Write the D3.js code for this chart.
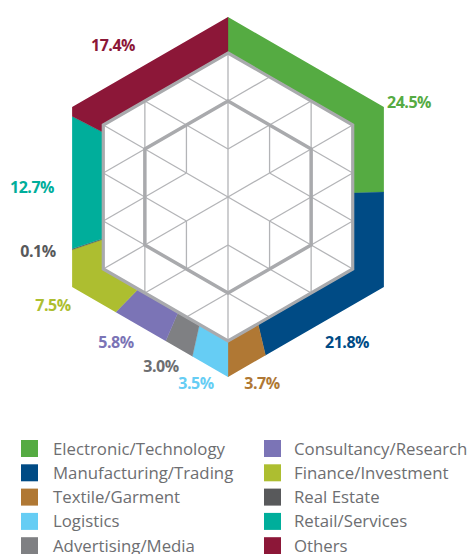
<!DOCTYPE html>
<html>
<head>
    <title>Hexagon Share Chart</title>
    <script src="https://d3js.org/d3.v7.min.js"></script>
    <style>
        body, html {
            margin: 0;
            padding: 0;
            width: 100%;
            height: 100%;
            overflow: hidden;
            background: #ffffff;
        }

        svg {
            display: block;
        }

        .pct {
            font-family: "Open Sans", sans-serif;
            font-size: 16px;
            font-weight: bold;
            text-anchor: middle;
            letter-spacing: -0.5px;
        }

        .legend-text {
            font-family: "Open Sans", sans-serif;
            font-size: 16.8px;
            fill: #6d6e71;
        }
    </style>
</head>
<body>
    <svg id="chart" width="468" height="554"></svg>

    <script>
        // data
        const categories = [
            "Electronic/Technology", "Manufacturing/Trading", "Textile/Garment",
            "Logistics", "Advertising/Media", "Consultancy/Research",
            "Finance/Investment", "Real Estate", "Retail/Services", "Others"
        ];
        const shares = [24.5, 21.8, 3.7, 3.5, 3.0, 5.8, 7.5, 0.1, 12.7, 17.4];
        const colors = [
            "#55ab42", "#004b85", "#b07834", "#66cdf4", "#7f8083",
            "#7b74b6", "#adbe30", "#58595b", "#00ae9b", "#8c1738"
        ];

        // hand placed label spots (px from hexagon centre)
        const labelSpots = [
            [181, -95], [119, 145], [34, 186], [-32, 186], [-67, 169],
            [-112, 145], [-175, 108], [-190, 54], [-196, -10], [-115, -152]
        ];

        // thin grid lines inside the hexagon, in lattice units, one quadrant
        // (a = column, r = half-row); mirrored into the other three
        const gridQuadrant = [
            [[0, -6], [0, -4]], [[0, -4], [0, -2]], [[0, -2], [0, 0]],
            [[-1, -3], [-1, -1]], [[-2, -4], [-2, -2]],
            [[-1, -5], [0, -4]], [[-2, -4], [-1, -3]], [[-1, -3], [0, -2]],
            [[-3, -3], [-2, -2]], [[-2, -2], [-1, -1]], [[-1, -1], [0, 0]],
            [[-3, -1], [-2, 0]], [[-3, -1], [-2, -2]], [[-2, 0], [-1, -1]]
        ];

        const svg = d3.select("#chart");
        const cx = 228, cy = 197;
        const rOuter = 180, rInner = 144, rCore = 96;

        function hexPath(r, ox = cx, oy = cy) {
            const pts = d3.range(6).map(k => {
                const t = k * Math.PI / 3;
                return [ox + r * Math.sin(t), oy - r * Math.cos(t)];
            });
            return "M" + pts.join("L") + "Z";
        }

        // ring clip
        svg.append("clipPath")
            .attr("id", "ring")
            .append("path")
            .attr("d", hexPath(rOuter) + hexPath(rInner + 1))
            .attr("clip-rule", "evenodd");

        const pie = d3.pie().sort(null).value(d => d);
        const arcs = pie(shares);
        const arc = d3.arc().innerRadius(0).outerRadius(260);

        svg.append("g")
            .attr("clip-path", "url(#ring)")
            .append("g")
            .attr("transform", `translate(${cx},${cy})`)
            .selectAll("path")
            .data(arcs)
            .enter().append("path")
            .attr("d", arc)
            .attr("fill", (d, i) => colors[i])
            .attr("stroke", (d, i) => colors[i])
            .attr("stroke-width", 0.3);

        // white face
        svg.append("path")
            .attr("d", hexPath(rInner))
            .attr("fill", "#ffffff");

        // lattice scales
        const step = rInner / 3;
        const x = d3.scaleLinear().domain([-3, 3]).range([cx - 3 * step * Math.sqrt(3) / 2, cx + 3 * step * Math.sqrt(3) / 2]);
        const y = d3.scaleLinear().domain([-6, 6]).range([cy - rInner, cy + rInner]);

        const seen = new Set();
        const gridLines = [];
        [[1, 1], [-1, 1], [1, -1], [-1, -1]].forEach(([sa, sr]) => {
            gridQuadrant.forEach(([p, q]) => {
                const a = [p[0] * sa, p[1] * sr], b = [q[0] * sa, q[1] * sr];
                const key = [a.join(","), b.join(",")].sort().join("|");
                if (!seen.has(key)) {
                    seen.add(key);
                    gridLines.push([a, b]);
                }
            });
        });

        svg.append("g")
            .selectAll("line")
            .data(gridLines)
            .enter().append("line")
            .attr("x1", d => x(d[0][0]))
            .attr("y1", d => y(d[0][1]))
            .attr("x2", d => x(d[1][0]))
            .attr("y2", d => y(d[1][1]))
            .attr("stroke", "#b3b4b7")
            .attr("stroke-width", 1.3);

        svg.append("path")
            .attr("d", hexPath(rCore))
            .attr("fill", "none")
            .attr("stroke", "#a9aaad")
            .attr("stroke-width", 3.5)
            .attr("stroke-linejoin", "miter");

        svg.append("path")
            .attr("d", hexPath(rInner))
            .attr("fill", "none")
            .attr("stroke", "#a9aaad")
            .attr("stroke-width", 3.2);

        // percentage labels
        svg.append("g")
            .selectAll("text")
            .data(arcs)
            .enter().append("text")
            .attr("class", "pct")
            .attr("x", (d, i) => cx + labelSpots[i][0])
            .attr("y", (d, i) => cy + labelSpots[i][1])
            .attr("dy", "0.36em")
            .attr("fill", (d, i) => i === 4 ? "#6d6e71" : colors[i])
            .text(d => d.data.toFixed(1) + "%");

        // legend, two columns of five
        const legend = svg.append("g");
        const items = legend.selectAll("g")
            .data(categories)
            .enter().append("g")
            .attr("transform", (d, i) => `translate(${i < 5 ? 21 : 264},${440 + (i % 5) * 24.3})`);

        items.append("rect")
            .attr("width", 17)
            .attr("height", 17)
            .attr("fill", (d, i) => colors[i]);

        items.append("text")
            .attr("class", "legend-text")
            .attr("x", (d, i) => i < 5 ? 32 : 30)
            .attr("y", 14.5)
            .text(d => d);
    </script>
</body>
</html>
